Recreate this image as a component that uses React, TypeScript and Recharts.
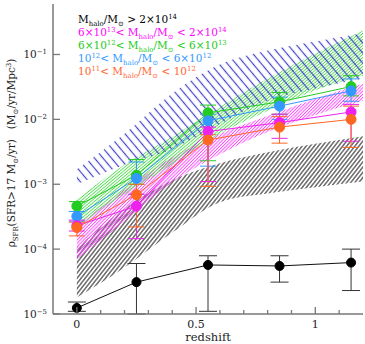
import React from 'react';
import { Area, ComposedChart, ErrorBar, Line, XAxis, YAxis } from 'recharts';

// band edges (hatched model ranges), sampled in redshift
const BAND_Z = [0, 0.2, 0.4, 0.6, 0.8, 1.0, 1.2];
const BLACK_BAND_LO = [1.8e-5, 5.2e-5, 1.8e-4, 5.3e-4, 7.2e-4, 9.0e-4, 1.1e-3];
const BLACK_BAND_HI = [1.05e-4, 4.2e-4, 1.15e-3, 2.1e-3, 3.1e-3, 4.2e-3, 5.5e-3];
const MAGENTA_BAND_LO = [6.9e-5, 2.7e-4, 1.07e-3, 2.9e-3, 6.4e-3, 1.17e-2, 1.94e-2];
const MAGENTA_BAND_HI = [2.3e-4, 8.4e-4, 2.6e-3, 6.0e-3, 1.13e-2, 2.08e-2, 3.55e-2];
const GREEN_BAND_LO = [2.2e-4, 7.0e-4, 2.0e-3, 6.0e-3, 1.35e-2, 2.8e-2, 4.7e-2];
const GREEN_BAND_HI = [5.9e-4, 2.0e-3, 5.4e-3, 1.56e-2, 4.25e-2, 0.104, 0.235];
const BLUE_BAND_LO = [1.0e-3, 2.0e-3, 3.5e-3, 8.5e-3, 1.94e-2, 3.0e-2, 4.25e-2];
const BLUE_BAND_HI = [1.7e-3, 6.0e-3, 2.5e-2, 7.0e-2, 0.115, 0.159, 0.212];

// measured SFR densities per halo mass bin
const REDSHIFT = [0, 0.25, 0.55, 0.85, 1.15];
const BLACK_VAL = [1.24e-5, 3.1e-5, 5.7e-5, 5.5e-5, 6.2e-5];
const BLACK_LO = [1.1e-5, 1.0e-5, 1.1e-5, 3.1e-5, 2.3e-5];
const BLACK_HI = [1.53e-5, 6.0e-5, 7.9e-5, 7.9e-5, 1.0e-4];
const MAGENTA_VAL = [2.3e-4, 4.6e-4, 6.5e-3, 8.9e-3, 1.3e-2];
const MAGENTA_LO = [1.9e-4, 1.45e-4, 1.1e-3, 5.1e-3, 4.6e-3];
const MAGENTA_HI = [2.8e-4, 7.0e-4, 7.6e-3, 1.2e-2, 1.7e-2];
const GREEN_VAL = [4.6e-4, 1.38e-3, 1.26e-2, 1.86e-2, 3.2e-2];
const GREEN_LO = [3.8e-4, 1.0e-3, 2.3e-3, 1.2e-2, 2.3e-2];
const GREEN_HI = [5.4e-4, 2.4e-3, 1.66e-2, 2.6e-2, 4.7e-2];
const BLUE_VAL = [3.2e-4, 1.23e-3, 9.5e-3, 1.6e-2, 2.75e-2];
const BLUE_LO = [2.7e-4, 7.0e-4, 1.9e-3, 1.0e-2, 1.9e-2];
const BLUE_HI = [3.8e-4, 2.2e-3, 1.2e-2, 2.2e-2, 4.2e-2];
const ORANGE_VAL = [2.15e-4, 6.9e-4, 4.8e-3, 7.6e-3, 1.0e-2];
const ORANGE_LO = [1.6e-4, 2.2e-4, 9.3e-4, 4.3e-3, 3.7e-3];
const ORANGE_HI = [2.6e-4, 1.0e-3, 5.8e-3, 1.1e-2, 1.6e-2];

const X_TICKS = [0, 0.1, 0.2, 0.3, 0.4, 0.5, 0.6, 0.7, 0.8, 0.9, 1.0, 1.1];
const X_MAJOR = [0, 0.5, 1];
const Y_TICKS = [1e-5, 1e-4, 1e-3, 1e-2, 1e-1];

const FONT = '"DejaVu Serif", serif';
const FRAME = '#777';

const band = (lo: number[], hi: number[]) =>
  BAND_Z.map((z, i) => ({ z, range: [lo[i], hi[i]] }));

const series = (val: number[], lo: number[], hi: number[]) =>
  REDSHIFT.map((z, i) => ({ z, v: val[i], err: [val[i] - lo[i], hi[i] - val[i]] }));

type Seg = [string, 'n' | 'sub' | 'sup'];

const Rich = ({ x, y, segs, size, fill, anchor = 'start', transform }: {
  x: number; y: number; segs: Seg[]; size: number; fill: string; anchor?: string; transform?: string;
}) => {
  let shift = 0;
  return (
    <text x={x} y={y} fontSize={size} fill={fill} fontFamily={FONT} textAnchor={anchor}
      transform={transform} style={{ whiteSpace: 'pre' }}>
      {segs.map(([t, k], i) => {
        const target = k === 'sub' ? size * 0.25 : k === 'sup' ? -size * 0.42 : 0;
        const dy = target - shift;
        shift = target;
        return <tspan key={i} dy={dy} fontSize={k === 'n' ? size : size * 0.66}>{t}</tspan>;
      })}
    </text>
  );
};

const MH: Seg[] = [['M', 'n'], ['halo', 'sub'], ['/M', 'n'], ['⊙', 'sub']];

const LEGEND: { color: string; segs: Seg[] }[] = [
  { color: '#000', segs: [...MH, [' > 2×10', 'n'], ['14', 'sup']] },
  { color: '#f0f', segs: [['6×10', 'n'], ['13', 'sup'], ['< ', 'n'], ...MH, [' < 2×10', 'n'], ['14', 'sup']] },
  { color: '#2c2', segs: [['6×10', 'n'], ['12', 'sup'], ['< ', 'n'], ...MH, [' < 6×10', 'n'], ['13', 'sup']] },
  { color: '#39f', segs: [['10', 'n'], ['12', 'sup'], ['< ', 'n'], ...MH, [' < 6×10', 'n'], ['12', 'sup']] },
  { color: '#f63', segs: [['10', 'n'], ['11', 'sup'], ['< ', 'n'], ...MH, [' < 10', 'n'], ['12', 'sup']] },
];

const Y_LABEL: Seg[] = [
  ['ρ', 'n'], ['SFR', 'sub'], ['(SFR>17 M', 'n'], ['⊙', 'sub'], ['/yr)   (M', 'n'], ['⊙', 'sub'],
  ['/yr/Mpc', 'n'], ['3', 'sup'], [')', 'n'],
];

const BottomTick = (p: any) => {
  const major = X_MAJOR.some((m) => Math.abs(m - p.payload.value) < 1e-6);
  return (
    <g>
      <line x1={p.x} x2={p.x} y1={p.y} y2={p.y - (major ? 7 : 4)} stroke={FRAME} strokeWidth={1.3} />
      {major && (
        <text x={p.x} y={p.y + 14} textAnchor="middle" fontSize={11} fontFamily={FONT} fill="#222">
          {String(p.payload.value)}
        </text>
      )}
    </g>
  );
};

const TopTick = (p: any) => {
  const major = X_MAJOR.some((m) => Math.abs(m - p.payload.value) < 1e-6);
  return <line x1={p.x} x2={p.x} y1={p.y} y2={p.y + (major ? 7 : 4)} stroke={FRAME} strokeWidth={1.3} />;
};

const LeftTick = (p: any) => {
  const exp = Math.round(Math.log10(p.payload.value));
  return (
    <g>
      <line x1={p.x} x2={p.x + 7} y1={p.y} y2={p.y} stroke={FRAME} strokeWidth={1.3} />
      <Rich x={p.x - 6} y={p.y + 4} size={10.5} fill="#222" anchor="end"
        segs={[['10', 'n'], [`−${-exp}`, 'sup']]} />
    </g>
  );
};

const RightTick = (p: any) => (
  <line x1={p.x} x2={p.x - 6} y1={p.y} y2={p.y} stroke={FRAME} strokeWidth={1.3} />
);

const hatch = (id: string, color: string, gap: number, angle: number, width: number) => (
  <pattern id={id} patternUnits="userSpaceOnUse" width={gap} height={gap} patternTransform={`rotate(${angle})`}>
    <line x1={gap / 2} y1={0} x2={gap / 2} y2={gap} stroke={color} strokeWidth={width} />
  </pattern>
);

const POINT_SERIES = [
  { name: 'green', color: '#2c2', data: series(GREEN_VAL, GREEN_LO, GREEN_HI) },
  { name: 'blue', color: '#39f', data: series(BLUE_VAL, BLUE_LO, BLUE_HI) },
  { name: 'magenta', color: '#e2e', data: series(MAGENTA_VAL, MAGENTA_LO, MAGENTA_HI) },
  { name: 'orange', color: '#f62', data: series(ORANGE_VAL, ORANGE_LO, ORANGE_HI) },
];

export default function App() {
  return (
    <div style={{ position: 'absolute', left: 0, top: 0, width: 365, height: 344, background: '#fff' }}>
      <ComposedChart width={365} height={344} margin={{ top: 4, right: 2, bottom: 0, left: 0 }}>
        <defs>
          {hatch('hBlack', '#444', 3.2, 38, 1.2)}
          {hatch('hMagenta', '#f4f', 2.3, 45, 0.9)}
          {hatch('hGreen', '#5d5', 2.3, 50, 0.9)}
          {hatch('hBlue', '#44c', 6.5, -40, 1.2)}
        </defs>
        <XAxis dataKey="z" type="number" domain={[-0.1, 1.2]} ticks={X_TICKS} allowDataOverflow
          height={30} tickSize={0} tickMargin={0} tickLine={false} interval={0}
          axisLine={{ stroke: FRAME, strokeWidth: 1.5 }} tick={BottomTick} />
        <XAxis xAxisId="top" orientation="top" dataKey="z" type="number" domain={[-0.1, 1.2]}
          ticks={X_TICKS} allowDataOverflow height={0} tickSize={0} tickMargin={0} tickLine={false}
          interval={0} axisLine={{ stroke: FRAME, strokeWidth: 1.5 }} tick={TopTick} />
        <YAxis scale="log" type="number" domain={[1e-5, 0.6]} ticks={Y_TICKS} allowDataOverflow
          width={53} tickSize={0} tickMargin={0} tickLine={false} interval={0}
          axisLine={{ stroke: FRAME, strokeWidth: 1.5 }} tick={LeftTick} />
        <YAxis yAxisId="right" orientation="right" scale="log" type="number" domain={[1e-5, 0.6]}
          ticks={Y_TICKS} allowDataOverflow width={0} tickSize={0} tickMargin={0} tickLine={false}
          interval={0} axisLine={{ stroke: FRAME, strokeWidth: 1.5 }} tick={RightTick} />

        <Area data={band(BLACK_BAND_LO, BLACK_BAND_HI)} dataKey="range" type="monotone"
          fill="url(#hBlack)" fillOpacity={1} stroke="none" isAnimationActive={false} />
        <Area data={band(MAGENTA_BAND_LO, MAGENTA_BAND_HI)} dataKey="range" type="monotone"
          fill="url(#hMagenta)" fillOpacity={1} stroke="none" isAnimationActive={false} />
        <Area data={band(GREEN_BAND_LO, GREEN_BAND_HI)} dataKey="range" type="monotone"
          fill="url(#hGreen)" fillOpacity={1} stroke="none" isAnimationActive={false} />
        <Area data={band(BLUE_BAND_LO, BLUE_BAND_HI)} dataKey="range" type="monotone"
          fill="url(#hBlue)" fillOpacity={1} stroke="none" isAnimationActive={false} />

        <Line data={series(BLACK_VAL, BLACK_LO, BLACK_HI)} dataKey="v" stroke="#111" strokeWidth={1}
          dot={{ r: 4.5, fill: '#000', stroke: '#000' }} activeDot={false} isAnimationActive={false}>
          <ErrorBar dataKey="err" width={9} stroke="#333" strokeWidth={1} direction="y" />
        </Line>
        {POINT_SERIES.map((s) => (
          <Line key={s.name} data={s.data} dataKey="v" stroke={s.color} strokeWidth={1}
            dot={{ r: 5, fill: s.color, stroke: s.color }} activeDot={false} isAnimationActive={false}>
            <ErrorBar dataKey="err" width={8} stroke={s.color} strokeWidth={1} direction="y" />
          </Line>
        ))}
      </ComposedChart>
      <svg width={365} height={344} style={{ position: 'absolute', left: 0, top: 0, pointerEvents: 'none' }}>
        {LEGEND.map((l, i) => (
          <Rich key={i} x={78} y={23 + i * 13} segs={l.segs} size={10.5} fill={l.color} />
        ))}
        <Rich x={0} y={0} segs={Y_LABEL} size={10.5} fill="#222" anchor="middle"
          transform="translate(15,153) rotate(-90)" />
        <text x={208} y={341} textAnchor="middle" fontSize={11.5} fontFamily={FONT} fill="#222">redshift</text>
      </svg>
    </div>
  );
}
